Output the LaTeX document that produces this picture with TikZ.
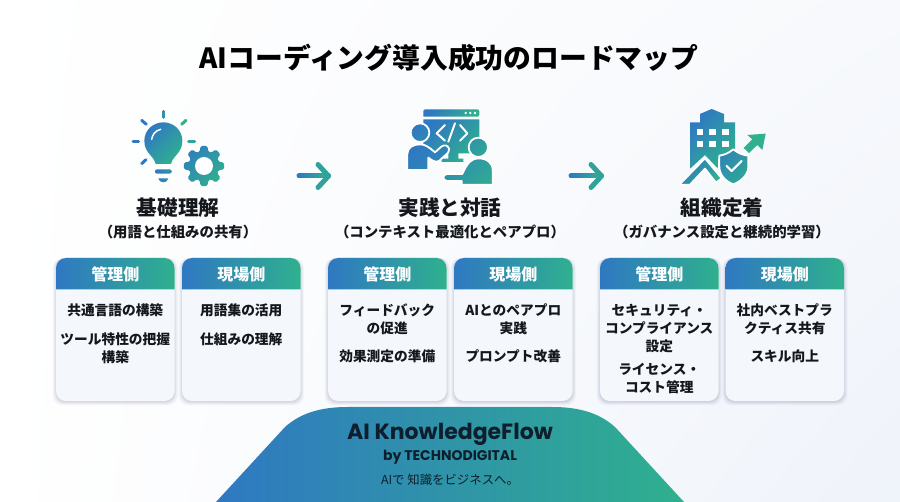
\documentclass[tikz,border=0pt]{standalone}
\usepackage{fontspec}
\setmainfont{Noto Sans CJK JP}
\newfontfamily\logofont{Poppins}
\usetikzlibrary{calc,shadings}
\definecolor{gA}{HTML}{2F78C2}
\definecolor{gB}{HTML}{2FB08E}
\definecolor{gM}{HTML}{2F94A8}
\definecolor{inkc}{HTML}{14171C}
\definecolor{cardc}{HTML}{F4F7FB}
\definecolor{bgA}{HTML}{FFFFFF}
\definecolor{bgB}{HTML}{EFF3FA}
\definecolor{bgC}{HTML}{F7F9FC}
\definecolor{logoc}{HTML}{0E1E2C}
\tikzset{
  grad/.style={left color=gA,right color=gB,shading angle=45},
  gradh/.style={left color=gA,right color=gB},
  icon/.style={x=0.33333pt,y=-0.33333pt},
  ring/.style={draw=white,line width=1.8pt,line join=round},
  rayline/.style={line width=3pt,line cap=round},
  whitestroke/.style={draw=white,line width=2pt,line cap=round,line join=round},
  titletext/.style={text=black,font=\bfseries\fontsize{27.8}{30}\selectfont,inner sep=0pt},
  stagetext/.style={text=inkc,font=\bfseries\fontsize{20.6}{24}\selectfont,inner sep=0pt},
  subtext/.style={text=inkc,font=\bfseries\fontsize{14.4}{18}\selectfont,inner sep=0pt},
  headtext/.style={text=white,font=\bfseries\fontsize{16}{20}\selectfont,inner sep=0pt},
  bodytext/.style={text=inkc,font=\bfseries\fontsize{13.7}{18}\selectfont,inner sep=0pt,align=center,anchor=north},
}
\newcommand\cardbox[5]{%
  \foreach \s/\o in {3.5/0.03,2.5/0.04,1.5/0.05,0.7/0.06}{
    \fill[black!60!blue!60!gray,opacity=\o,rounded corners=10pt] (#2-\s,258) rectangle (#2+118.5+\s,401+\s+1);
  }
  \fill[cardc,rounded corners=10pt] (#2,258) rectangle (#2+118.5,401);
  \shade[gradh] (#2,289.3) [rounded corners=10pt] -- (#2,258) -- (#2+118.5,258) [sharp corners] -- (#2+118.5,289.3) -- cycle;
  \node[headtext] (#1h) at (#2+59.25,274) {#3};
  \node[bodytext] (#1b) at (#2+59.25,#4) {#5};
}
\newcommand\gradarrow[2]{%
  \foreach \p in {0,5,...,95}{
    \pgfmathsetmacro\q{\p/100+0.05}
    \pgfmathsetmacro\r{\p/100}
    \draw[draw=gB!\p!gA,line width=5pt,line cap=round] ($(#1)!\r!(#2)+(-1.5,0)$) -- ($(#1)!\q!(#2)+(-1.5,0)$);
  }
  \draw[draw=gB!75!gA,line width=5pt,line cap=round,line join=round] ($(#2)+(-12,-11.5)$) -- ($(#2)+(-1.5,0)$) -- ($(#2)+(-12,11.5)$);
}
\begin{document}
\begin{tikzpicture}[x=1pt,y=-1pt]
\useasboundingbox (0,0) rectangle (900,502);
\shade[upper left=bgA,upper right=bgC,lower left=bgA,lower right=bgB] (0,0) rectangle (900,502);

\node[titletext] (title) at (449,58) {AIコーディング導入成功のロードマップ};

% Icon 1: bulb and gear
\begin{scope}[shift={(100,90)},icon]
  \shade[grad] (167,222) .. controls (162,197) and (133,190) .. (133,152) .. controls (133,120) and (160,97) .. (190,97) .. controls (220,97) and (247,120) .. (247,152) .. controls (247,190) and (218,197) .. (213,222) -- cycle;
  \draw[white,line width=1.5pt,line cap=round] (155,148) .. controls (157,135) and (165,122) .. (182,118);
  \shade[left color=gA,right color=gM,rounded corners=2pt] (165,238) rectangle (215,251);
  \shade[left color=gA,right color=gM] (175,265) -- (205,265) .. controls (205,272) and (197,277) .. (190,277) .. controls (183,277) and (175,272) .. (175,265) -- cycle;
  \draw[draw=gM,rayline] (190,64) -- (190,82);
  \draw[draw=gA,rayline] (125,91) -- (139,103);
  \draw[draw=gB,rayline] (258,91) -- (245,103);
  \draw[draw=gA,rayline] (99,155) -- (116,155);
  \draw[draw=gB!60!gM,rayline] (266,155) -- (284,155);
  \draw[draw=gA,rayline] (125,221) -- (138,209);
  \begin{scope}[shift={(312,228)}]
    \shade[left color=gA!70!gM,right color=gB,shading angle=45,rounded corners=1.5pt]
      (-16:45) \foreach \a in {0,45,...,315}{ -- ({\a-16}:45) -- ({\a-10}:61) -- ({\a+10}:61) -- ({\a+16}:45) } -- cycle;
    \fill[white] (0,0) circle (27);
  \end{scope}
\end{scope}

% Icon 2: pair programming
\begin{scope}[shift={(380,90)},icon]
  \shade[grad] (130,80) [rounded corners=2pt] -- (130,58) -- (298,58) -- (298,80) [sharp corners] -- cycle;
  \foreach \x in {257,271,285}{ \fill[white] (\x,69) circle (4); }
  \shade[grad] (130,88) -- (298,88) -- (298,190) -- (235,190) -- (235,206) -- (250,206) -- (250,216) -- (185,216) -- (185,206) -- (205,206) -- (205,190) -- (130,190) -- cycle;
  \draw[whitestroke] (195,105) -- (170,130) -- (195,152);
  \draw[whitestroke] (225,100) -- (205,155);
  \draw[whitestroke] (240,105) -- (262,130) -- (240,152);
  \shadedraw[left color=gA,right color=gM!60!gA,shading angle=45,ring] (120,128) circle (28);
  \shadedraw[left color=gA,right color=gM!60!gA,shading angle=45,ring] (82,240) -- (82,192) .. controls (82,172) and (100,163) .. (120,163) .. controls (135,163) and (145,170) .. (165,187) -- (184,170) .. controls (192,163) and (205,166) .. (207,176) .. controls (208,184) and (205,188) .. (200,192) -- (178,212) .. controls (170,218) and (160,215) .. (145,203) -- (145,240) -- cycle;
  \shadedraw[left color=gM,right color=gB!70!gM,shading angle=45,ring] (295,172) circle (29);
  \shadedraw[left color=gM!70!gA,right color=gB!70!gM,shading angle=45,ring] (338,284) -- (338,240) .. controls (338,218) and (320,205) .. (295,205) .. controls (275,205) and (262,218) .. (247,252) -- (202,252) .. controls (186,252) and (186,273) .. (202,273) -- (245,273) -- (245,284) -- cycle;
\end{scope}

% Icon 3: building, shield and arrow
\begin{scope}[shift={(650,90)},icon]
  \shade[grad] (120,97) -- (150,97) -- (150,72) -- (185,57) -- (222,72) -- (222,97) -- (255,97) -- (255,185) -- (205,205) -- (203,235) -- (165,195) -- (120,236) -- cycle;
  \foreach \x in {140,178,217}{ \foreach \y in {117,153}{
    \fill[white] (\x,\y) rectangle ++(20,19);
  }}
  \shadedraw[grad,ring] (88,284) -- (165,205) -- (215,265) -- (198,278) -- (165,236) -- (120,284) -- cycle;
  \shadedraw[left color=gA!50!gM,right color=gB!70!gM,shading angle=45,ring] (250,178) .. controls (235,190) and (222,195) .. (208,197) -- (208,230) .. controls (208,255) and (228,275) .. (250,283) .. controls (272,275) and (295,255) .. (295,230) -- (295,197) .. controls (278,195) and (265,190) .. (250,178) -- cycle;
  \draw[whitestroke,line width=2.2pt] (230,228) -- (245,243) -- (275,213);
  \fill[gB] (347,131) -- (337,180) -- (322,165) -- (297,189) -- (281,174) -- (307,148) -- (292,135) -- cycle;
\end{scope}

% Connectors
\coordinate (a1s) at (300.5,176);
\coordinate (a1e) at (330,176);
\coordinate (a2s) at (572.5,176);
\coordinate (a2e) at (603,176);
\gradarrow{a1s}{a1e}
\gradarrow{a2s}{a2e}

% Stage labels
\node[stagetext] (s1) at (178,208) {基礎理解};
\node[subtext] (s1b) at (178,232) {（用語と仕組みの共有）};
\node[stagetext] (s2) at (450,208) {実践と対話};
\node[subtext] (s2b) at (450,232) {（コンテキスト最適化とペアプロ）};
\node[stagetext] (s3) at (722,208) {組織定着};
\node[subtext] (s3b) at (722,232) {（ガバナンス設定と継続的学習）};

% Cards
\cardbox{c1}{56}{管理側}{303.5}{共通言語の構築\\[11pt]ツール特性の把握\\構築}
\cardbox{c2}{182}{現場側}{303.5}{用語集の活用\\[11pt]仕組みの理解}
\cardbox{c3}{328}{管理側}{303.5}{フィードバック\\の促進\\[10pt]効果測定の準備}
\cardbox{c4}{454}{現場側}{303.5}{AIとのペアプロ\\実践\\[10pt]プロンプト改善}
\cardbox{c5}{600}{管理側}{303.5}{セキュリティ・\\コンプライアンス\\設定\\[5pt]ライセンス・\\コスト管理}
\cardbox{c6}{725.5}{現場側}{303.5}{社内ベストプラ\\クティス共有\\[10pt]スキル向上}

% Bottom badge
\shade[left color=gA,right color=gB] (216,502) -- (285,427) .. controls (303,411) and (325,407) .. (348,407) -- (552,407) .. controls (575,407) and (597,411) .. (615,427) -- (684,502) -- cycle;
\node[text=logoc,inner sep=0pt,font=\logofont\bfseries\fontsize{22}{26}\selectfont] (logo) at (450,434) {AI KnowledgeFlow};
\node[text=logoc,inner sep=0pt,font=\logofont\bfseries\fontsize{14}{16}\selectfont] (by) at (450,457) {by TECHNODIGITAL};
\node[text=logoc,inner sep=0pt,font=\fontsize{12.4}{16}\selectfont] (tag) at (450,480) {AIで 知識をビジネスへ。};
\end{tikzpicture}
\end{document}
